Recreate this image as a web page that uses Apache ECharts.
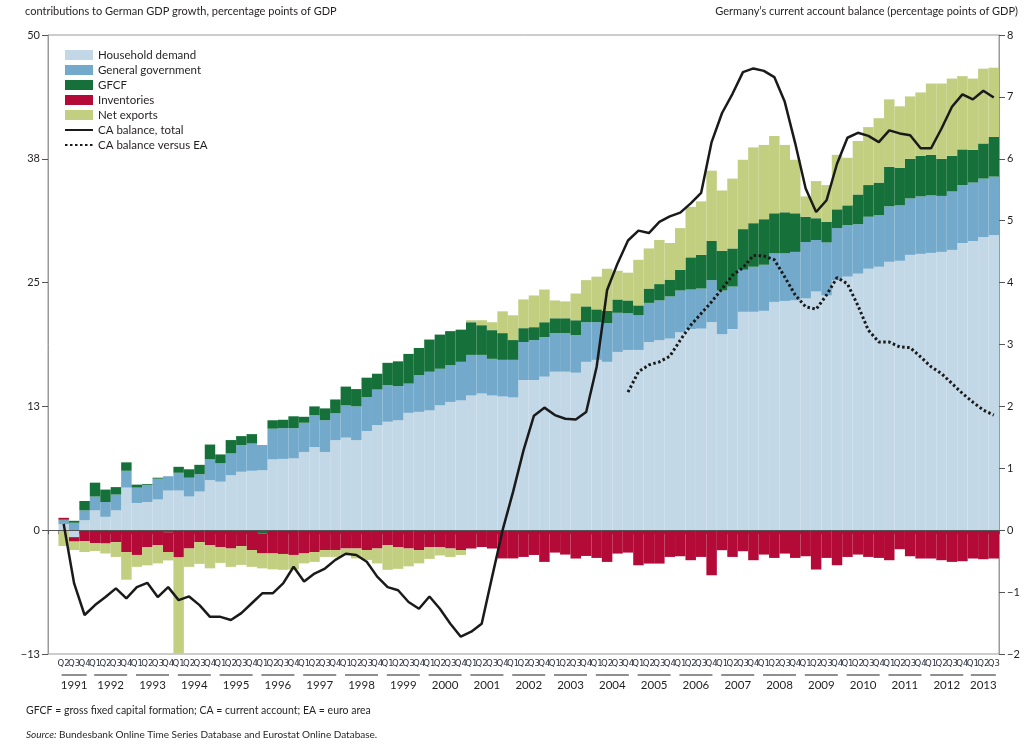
<!DOCTYPE html>
<html>
<head>
<meta charset="utf-8">
<title>German GDP growth contributions and current account</title>
<script src="https://cdn.jsdelivr.net/npm/echarts@6/dist/echarts.min.js"></script>
<style>
  html, body { margin: 0; padding: 0; background: #fff; }
  #chart { width: 1024px; height: 750px; }
</style>
</head>
<body>
<div id="chart"></div>
<script>
// years on the axis and how many quarters each one shows (1991 starts at Q1 but has no data)
var years = [1991, 1992, 1993, 1994, 1995, 1996, 1997, 1998, 1999, 2000, 2001, 2002,
             2003, 2004, 2005, 2006, 2007, 2008, 2009, 2010, 2011, 2012, 2013];
var firstQuarter = { 1991: 1, 2013: 1 };
var lastQuarter = { 2013: 3 };
var hiddenQuarterLabels = ['1991Q1'];

// contributions to GDP growth, percentage points (1991Q1 ... 2013Q3)
var household = [null,
  0.6, -0.7, 1.0, 2.0, 1.35, 2.0, 4.3, 2.75, 2.85, 3.1,
  4.0, 4.0, 3.4, 3.9, 5.05, 4.9, 5.55, 5.9, 6.0, 6.05,
  7.15, 7.2, 7.25, 7.9, 8.4, 7.9, 9.1, 9.35, 9.1, 10.0,
  10.6, 10.95, 11.1, 11.85, 11.95, 12.1, 12.6, 12.95, 13.1, 13.6,
  13.8, 13.6, 13.5, 13.4, 15.15, 15.15, 15.5, 16.0, 16.0, 15.9,
  17.0, 17.2, 17.0, 18.0, 18.2, 18.2, 19.0, 19.2, 19.35, 20.0,
  20.3, 20.35, 21.0, 19.8, 20.3, 22.05, 22.05, 22.15, 23.05, 23.15,
  23.2, 23.4, 24.1, 23.7, 25.25, 25.6, 25.9, 26.4, 26.6, 27.1,
  27.2, 27.8, 27.9, 28.0, 28.1, 28.3, 29.0, 29.2, 29.6, 29.8];
var government = [null,
  0.4, 0.75, 1.0, 1.4, 1.5, 1.6, 1.7, 1.55, 1.7, 2.1,
  1.45, 1.8, 1.9, 1.75, 2.1, 1.85, 2.2, 2.7, 2.75, 2.55,
  3.1, 3.1, 3.05, 2.95, 3.2, 3.2, 2.7, 3.25, 3.4, 3.45,
  3.6, 3.7, 3.45, 2.95, 3.7, 3.9, 3.7, 3.7, 3.9, 4.1,
  3.9, 3.7, 3.7, 3.8, 3.85, 4.05, 4.0, 3.9, 3.9, 3.8,
  4.0, 3.8, 3.9, 3.95, 3.7, 3.5, 3.95, 4.0, 4.25, 4.2,
  4.0, 4.05, 4.25, 4.4, 4.3, 4.25, 4.55, 4.65, 4.9, 4.8,
  4.9, 5.7, 5.2, 5.35, 5.25, 5.2, 5.0, 5.25, 5.2, 5.6,
  5.6, 5.7, 5.8, 5.8, 5.65, 5.9, 5.85, 5.9, 5.9, 5.9];
var gfcf = [null,
  0.1, 0.2, 0.95, 1.4, 1.25, 0.75, 0.85, 0.3, 0.1, 0.1,
  -0.2, 0.6, 0.85, 0.95, 1.5, 0.9, 1.35, 0.9, 0.95, -0.35,
  0.85, 0.85, 1.2, 0.6, 0.9, 1.2, 1.4, 1.9, 1.75, 1.95,
  1.6, 2.25, 2.5, 3.0, 2.75, 3.25, 3.45, 3.45, 3.25, 3.3,
  3.0, 2.9, 2.7, 2.0, 1.4, 1.3, 1.5, 1.5, 1.5, 1.5,
  1.6, 1.3, 1.25, 1.35, 1.3, 1.0, 1.45, 1.65, 1.7, 2.1,
  3.25, 3.4, 3.95, 4.0, 3.85, 4.1, 4.4, 4.6, 4.05, 4.15,
  3.9, 2.55, 2.2, 2.1, 1.9, 2.0, 3.0, 3.2, 3.3, 4.0,
  3.8, 4.0, 4.1, 4.1, 3.75, 3.6, 3.6, 3.3, 3.55, 4.0];
var inventories = [null,
  0.15, -0.45, -1.1, -1.3, -1.35, -1.2, -2.2, -2.5, -1.7, -1.5,
  -2.0, -2.75, -1.85, -1.2, -1.5, -1.7, -1.85, -1.6, -2.0, -2.0,
  -2.35, -2.4, -2.5, -2.35, -2.2, -2.0, -2.0, -1.85, -1.85, -2.0,
  -1.85, -1.5, -1.7, -1.85, -2.0, -1.7, -1.7, -1.85, -2.0, -1.85,
  -1.7, -1.85, -2.85, -2.85, -2.7, -2.5, -3.2, -2.26, -2.46, -2.86,
  -2.6, -2.8, -3.2, -2.36, -2.26, -3.54, -3.37, -3.37, -2.7, -2.63,
  -3.03, -2.7, -4.55, -2.02, -2.7, -2.12, -3.03, -2.46, -2.8, -2.36,
  -2.8, -2.63, -3.97, -2.8, -3.54, -2.7, -2.46, -2.7, -2.8, -3.03,
  -1.92, -2.63, -2.86, -2.86, -3.03, -3.2, -3.13, -2.86, -2.93, -2.86];
var netExports = [null,
  -1.6, -0.85, -1.1, -0.8, -1.0, -1.5, -2.8, -1.2, -1.85, -1.85,
  -0.85, -9.7, -1.85, -2.2, -2.35, -1.6, -1.85, -1.9, -1.7, -1.5,
  -1.6, -1.6, -1.45, -1.0, -1.0, -0.7, -0.7, -0.65, -1.0, -1.0,
  -1.5, -2.5, -2.2, -1.8, -1.35, -1.2, -0.85, -0.85, -0.5, 0.2,
  0.5, 0.8, 2.2, 2.5, 2.9, 3.2, 3.3, 1.8, 1.7, 2.7,
  2.65, 3.3, 4.25, 2.9, 2.8, 4.6, 4.05, 4.45, 3.7, 4.2,
  5.1, 5.4, 7.1, 6.1, 7.05, 7.0, 7.65, 7.5, 7.8, 6.8,
  5.4, 2.05, 3.75, 3.7, 5.5, 4.8, 5.4, 5.85, 6.5, 6.8,
  6.2, 6.3, 6.4, 7.2, 7.6, 7.8, 7.4, 7.2, 7.55, 7.0];

// current account balance, % of GDP (right axis)
var caTotal = [null,
  0.1, -0.86, -1.37, -1.21, -1.08, -0.94, -1.10, -0.92, -0.85, -1.08,
  -0.92, -1.13, -1.07, -1.21, -1.40, -1.40, -1.45, -1.34, -1.18, -1.02,
  -1.02, -0.86, -0.59, -0.83, -0.70, -0.62, -0.48, -0.38, -0.40, -0.51,
  -0.75, -0.92, -0.97, -1.16, -1.27, -1.07, -1.27, -1.51, -1.72, -1.64,
  -1.51, -0.75, 0.0, 0.62, 1.29, 1.85, 1.98, 1.86, 1.80, 1.79,
  1.91, 2.64, 3.88, 4.31, 4.68, 4.84, 4.80, 4.98, 5.07, 5.13,
  5.28, 5.45, 6.27, 6.74, 7.05, 7.40, 7.46, 7.42, 7.32, 6.92,
  6.25, 5.52, 5.14, 5.33, 5.92, 6.34, 6.42, 6.37, 6.27, 6.46,
  6.41, 6.38, 6.17, 6.17, 6.49, 6.84, 7.04, 6.96, 7.10, 6.99];
var caVersusEA = [null,
  null, null, null, null, null, null, null, null, null, null,
  null, null, null, null, null, null, null, null, null, null,
  null, null, null, null, null, null, null, null, null, null,
  null, null, null, null, null, null, null, null, null, null,
  null, null, null, null, null, null, null, null, null, null,
  null, null, null, null, 2.23, 2.56, 2.67, 2.72, 2.81, 3.07,
  3.31, 3.50, 3.69, 3.90, 4.12, 4.24, 4.44, 4.43, 4.37, 4.09,
  3.80, 3.61, 3.57, 3.80, 4.08, 3.98, 3.63, 3.23, 3.04, 3.04,
  2.96, 2.95, 2.80, 2.64, 2.53, 2.37, 2.21, 2.07, 1.94, 1.86];

var leftTicks = { min: -12.5, max: 50, interval: 12.5 };
var rightTicks = { min: -2, max: 8, interval: 1 };

// build quarter categories and year label positions
var quarters = [];
var yearCenters = [];
var yearByCenter = {};
var yearQuarterCount = {};
years.forEach(function (y) {
  var q0 = firstQuarter[y] || 1, q1 = lastQuarter[y] || 4;
  var start = quarters.length, shown = 0;
  for (var q = q0; q <= q1; q++) {
    var key = y + 'Q' + q;
    quarters.push(key);
    if (hiddenQuarterLabels.indexOf(key) < 0) shown++;
  }
  var firstShown = start + (quarters.length - start - shown);
  var c = (firstShown + quarters.length) / 2;
  yearCenters.push(c);
  yearByCenter[c] = y;
  yearQuarterCount[y] = shown;
});

var font = 'Lato, "Noto Sans", sans-serif';
var txt = '#231f20';

function minusFmt(v) {
  return (v < 0 ? '\u2212' : '') + Math.round(Math.abs(v));
}

var barBase = {
  type: 'bar',
  stack: 'gdp',
  barWidth: '100%',
  barCategoryGap: '0%',
  xAxisIndex: 0,
  yAxisIndex: 0
};

// legend entries for the lines: just the stroke, no marker
var noMarker = { color: 'rgba(0,0,0,0)', borderColor: 'rgba(0,0,0,0)', borderWidth: 0, opacity: 0 };

var myChart = echarts.init(document.getElementById('chart'));
var option = {
  animation: false,
  textStyle: { fontFamily: font },
  title: [
    { text: 'contributions to German GDP growth, percentage points of GDP', left: 25, top: 6, padding: 0,
      textStyle: { fontSize: 11, fontWeight: 'normal', color: txt, fontFamily: font } },
    { text: 'Germany\u2019s current account balance (percentage points of GDP)', right: 6, top: 6, padding: 0,
      textStyle: { fontSize: 11, fontWeight: 'normal', color: txt, fontFamily: font } },
    { text: 'GFCF = gross fixed capital formation; CA = current account; EA = euro area', left: 26, top: 705, padding: 0,
      textStyle: { fontSize: 10.5, fontWeight: 'normal', color: txt, fontFamily: font } },
    { text: '{i|Source:} Bundesbank Online Time Series Database and Eurostat Online Database.', left: 26, top: 730, padding: 0,
      textStyle: { fontSize: 10, fontWeight: 'normal', color: txt, fontFamily: font,
        rich: { i: { fontStyle: 'italic', fontSize: 10, color: txt, fontFamily: font } } } }
  ],
  legend: {
    orient: 'vertical',
    left: 64,
    top: 49,
    itemWidth: 28,
    itemHeight: 10,
    itemGap: 3,
    padding: 0,
    textStyle: { fontSize: 11.5, color: txt, fontFamily: font },
    data: [
      { name: 'Household demand', icon: 'rect' },
      { name: 'General government', icon: 'rect' },
      { name: 'GFCF', icon: 'rect' },
      { name: 'Inventories', icon: 'rect' },
      { name: 'Net exports', icon: 'rect' },
      { name: 'CA balance, total', itemStyle: noMarker },
      { name: 'CA balance versus EA', itemStyle: noMarker }
    ]
  },
  grid: {
    left: 48, right: 25, top: 35, bottom: 96,
    show: true, borderColor: '#9a9a9a', borderWidth: 1
  },
  xAxis: [
    {
      type: 'category',
      data: quarters,
      boundaryGap: true,
      axisLine: { lineStyle: { color: '#9a9a9a' } },
      axisTick: { show: true, interval: 0, length: 4, lineStyle: { color: '#555' } },
      axisLabel: {
        interval: 0,
        hideOverlap: false,
        margin: 5,
        fontSize: 9.5,
        color: '#2f3140',
        fontFamily: '"Liberation Sans Narrow", "DejaVu Sans Condensed", Lato, sans-serif',
        formatter: function (v) {
          return hiddenQuarterLabels.indexOf(v) >= 0 ? '' : v.slice(4);
        }
      },
      splitLine: { show: false }
    },
    {
      type: 'value',
      min: 0,
      max: quarters.length,
      position: 'bottom',
      axisLine: { show: false },
      axisTick: { show: false },
      splitLine: { show: false },
      axisLabel: {
        customValues: yearCenters,
        margin: 19,
        color: txt,
        fontFamily: font,
        // underline length depends on how many quarters a year shows
        formatter: function (v) {
          var y = yearByCenter[v];
          if (!y) return '';
          return (yearQuarterCount[y] < 4 ? '{s|\u00a0}' : '{u|\u00a0}') + '\n{y|' + y + '}';
        },
        rich: {
          u: { width: 33, height: 1, lineHeight: 4, fontSize: 1, backgroundColor: '#231f20' },
          s: { width: 25, height: 1, lineHeight: 4, fontSize: 1, backgroundColor: '#231f20' },
          y: { fontSize: 11.5, lineHeight: 16, color: txt, fontFamily: font }
        }
      }
    }
  ],
  yAxis: [
    {
      type: 'value',
      min: leftTicks.min, max: leftTicks.max, interval: leftTicks.interval,
      axisLine: { show: true, lineStyle: { color: '#9a9a9a' } },
      axisTick: { show: true, length: 6, lineStyle: { color: '#555' } },
      axisLabel: { formatter: minusFmt, fontSize: 11, color: txt, margin: 8, fontFamily: font },
      splitLine: { show: false }
    },
    {
      type: 'value',
      position: 'right',
      min: rightTicks.min, max: rightTicks.max, interval: rightTicks.interval,
      axisLine: { show: true, lineStyle: { color: '#9a9a9a' } },
      axisTick: { show: true, length: 6, lineStyle: { color: '#555' } },
      axisLabel: { formatter: minusFmt, fontSize: 11, color: txt, margin: 8, fontFamily: font },
      splitLine: { show: false }
    }
  ],
  series: [
    Object.assign({}, barBase, {
      name: 'Household demand', data: household, itemStyle: { color: '#c3d8e7' },
      markLine: {
        silent: true, symbol: ['none', 'none'], label: { show: false },
        lineStyle: { color: '#555', width: 1, type: 'solid' },
        data: [{ yAxis: 0 }]
      }
    }),
    Object.assign({}, barBase, { name: 'General government', data: government, itemStyle: { color: '#73a9ca' } }),
    Object.assign({}, barBase, { name: 'GFCF', data: gfcf, itemStyle: { color: '#16703a' } }),
    Object.assign({}, barBase, { name: 'Inventories', data: inventories, itemStyle: { color: '#b30a37' } }),
    Object.assign({}, barBase, { name: 'Net exports', data: netExports, itemStyle: { color: '#c2ce80' } }),
    {
      name: 'CA balance, total', type: 'line', yAxisIndex: 1, data: caTotal,
      symbol: 'none', connectNulls: false,
      lineStyle: { color: '#1a1a1a', width: 2.5 },
      itemStyle: { color: '#1a1a1a' }, z: 5
    },
    {
      name: 'CA balance versus EA', type: 'line', yAxisIndex: 1, data: caVersusEA,
      symbol: 'none', connectNulls: false,
      lineStyle: { color: '#1a1a1a', width: 3, type: [2.5, 2.5] },
      itemStyle: { color: '#1a1a1a' }, z: 5
    }
  ]
};

myChart.setOption(option);
</script>
</body>
</html>
